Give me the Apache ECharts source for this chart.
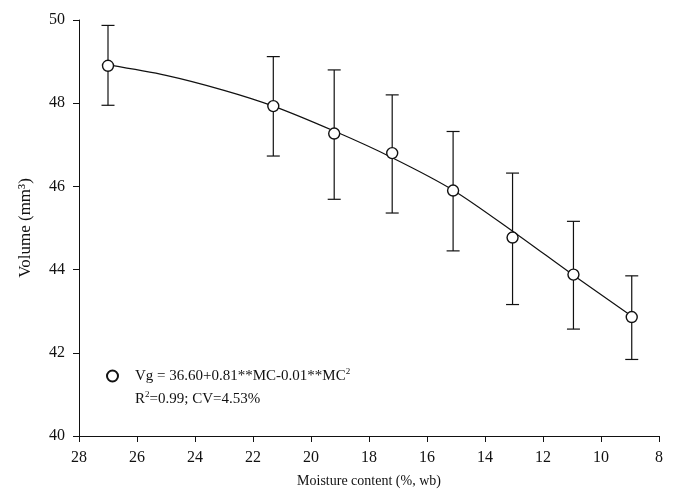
<!DOCTYPE html>
<html>
<head>
<meta charset="utf-8">
<script src="https://cdn.jsdelivr.net/npm/echarts@6/dist/echarts.min.js"></script>
<style>
  html, body { margin: 0; padding: 0; background: #fff; }
  #main { width: 675px; height: 499px; }
</style>
</head>
<body>
<div id="main"></div>
<script>
// moisture content (%, wb) and measured volume (mm3)
const moisture = [27.0, 21.3, 19.2, 17.2, 15.1, 13.05, 10.95, 8.94];
const volume = [48.90, 47.93, 47.27, 46.80, 45.90, 44.77, 43.88, 42.86];
const errUpper = [49.87, 49.12, 48.80, 48.20, 47.32, 46.32, 45.16, 43.85];
const errLower = [47.95, 46.73, 45.69, 45.36, 44.45, 43.16, 42.57, 41.84];

// fitted curve
const fitX = [27.0, 25.0, 23.0, 21.3, 19.2, 17.2, 15.1, 13.0, 11.0, 8.9];
const fitY = [48.92, 48.67, 48.31, 47.93, 47.33, 46.69, 45.91, 44.90, 43.89, 42.86];

const xTicks = [28, 26, 24, 22, 20, 18, 16, 14, 12, 10, 8];
const yTicks = [40, 42, 44, 46, 48, 50];

const serif = 'Liberation Serif';
const chart = echarts.init(document.getElementById('main'));

chart.setOption({
    animation: false,
    backgroundColor: '#fff',
    textStyle: { fontFamily: serif, color: '#111' },
    grid: { left: 79, right: 16, top: 20, bottom: 63 },
    legend: {
        left: 101, top: 362,
        itemWidth: 11, itemHeight: 11,
        itemGap: 0,
        data: [{ name: 'obs', icon: 'circle' }],
        formatter: () => 'Vg = 36.60+0.81**MC-0.01**MC{sup|2}',
        textStyle: {
            fontFamily: serif, fontSize: 15, color: '#111', padding: [0, 0, 0, 12],
            rich: { sup: { fontSize: 9, fontFamily: serif, color: '#111', padding: [0, 0, 9, 0] } }
        }
    },
    graphic: [{
        type: 'text', left: 135, top: 390,
        style: {
            text: 'R{sup|2}=0.99; CV=4.53%',
            font: '15px ' + serif, fill: '#111',
            rich: { sup: { fontSize: 9, fontFamily: serif, fill: '#111', padding: [0, 0, 9, 0] } }
        }
    }],
    xAxis: {
        type: 'value', inverse: true, min: xTicks[xTicks.length - 1], max: xTicks[0], interval: 2,
        name: 'Moisture content (%, wb)', nameLocation: 'middle', nameGap: 38,
        nameTextStyle: { fontFamily: serif, fontSize: 14, color: '#111' },
        axisLine: { lineStyle: { color: '#111', width: 1 } },
        axisTick: { length: 6, lineStyle: { color: '#111' } },
        axisLabel: { fontFamily: serif, fontSize: 16, color: '#111', margin: 14 },
        splitLine: { show: false }
    },
    yAxis: {
        type: 'value', min: yTicks[0], max: yTicks[yTicks.length - 1], interval: 2,
        name: 'Volume (mm³)', nameLocation: 'middle', nameGap: 45,
        nameTextStyle: { fontFamily: serif, fontSize: 17, color: '#111' },
        axisLine: { show: true, lineStyle: { color: '#111', width: 1 } },
        axisTick: { show: true, length: 6, lineStyle: { color: '#111' } },
        axisLabel: { fontFamily: serif, fontSize: 16, color: '#111', margin: 14 },
        splitLine: { show: false }
    },
    series: [
        {
            name: 'fit', type: 'line', smooth: 0.3, symbol: 'none', z: 2,
            lineStyle: { color: '#111', width: 1.2 },
            data: fitX.map((x, i) => [x, fitY[i]])
        },
        {
            name: 'err', type: 'custom', z: 3,
            data: moisture.map((x, i) => [x, errLower[i], errUpper[i]]),
            renderItem: function (params, api) {
                const lo = api.coord([api.value(0), api.value(1)]);
                const hi = api.coord([api.value(0), api.value(2)]);
                const w = 6.5;
                const st = { stroke: '#111', lineWidth: 1.2 };
                return {
                    type: 'group',
                    children: [
                        { type: 'line', shape: { x1: lo[0], y1: lo[1], x2: hi[0], y2: hi[1] }, style: st },
                        { type: 'line', shape: { x1: lo[0] - w, y1: lo[1], x2: lo[0] + w, y2: lo[1] }, style: st },
                        { type: 'line', shape: { x1: hi[0] - w, y1: hi[1], x2: hi[0] + w, y2: hi[1] }, style: st }
                    ]
                };
            }
        },
        {
            name: 'obs', type: 'scatter', symbol: 'circle', symbolSize: 11, z: 5,
            itemStyle: { color: '#fff', borderColor: '#111', borderWidth: 1.4, opacity: 1 },
            data: moisture.map((x, i) => [x, volume[i]])
        }
    ]
});
</script>
</body>
</html>
